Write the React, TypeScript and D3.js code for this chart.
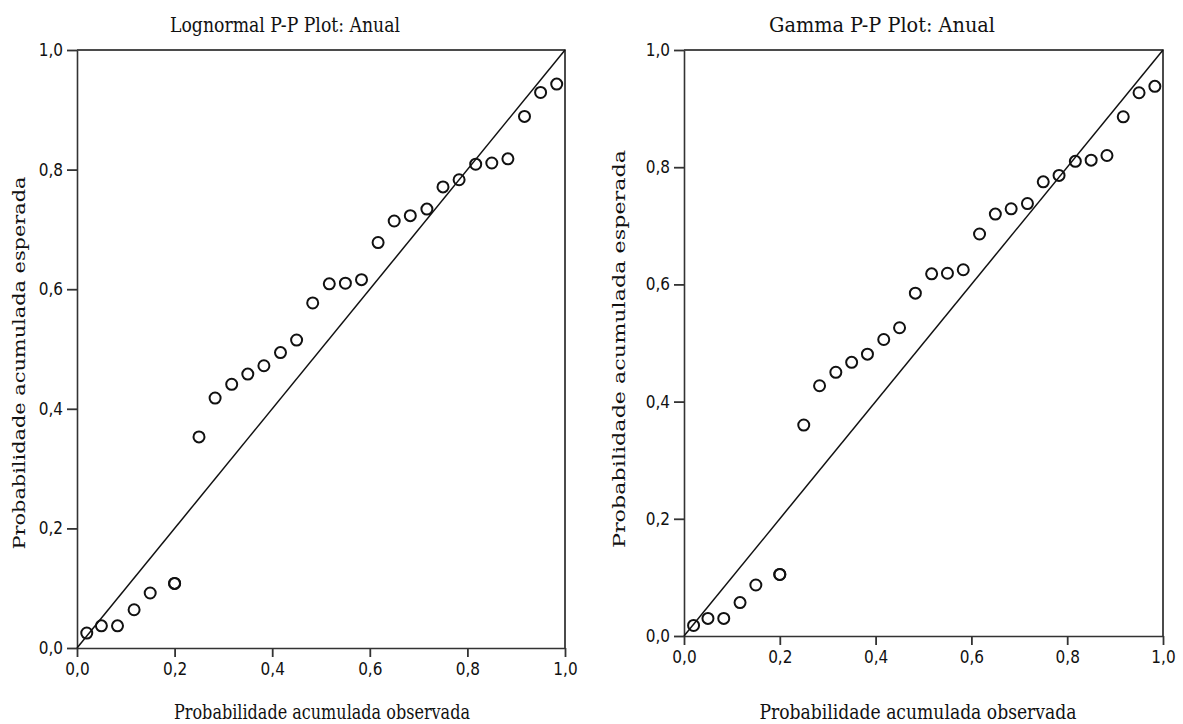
import React, { useEffect, useRef } from "react"
import * as d3 from "d3"

// observed cumulative probability (shared by both plots)
const observed = [0.02, 0.05, 0.083, 0.117, 0.15, 0.2, 0.2, 0.25, 0.283, 0.317, 0.35, 0.383, 0.417, 0.45, 0.483, 0.517, 0.55, 0.583, 0.617, 0.65, 0.683, 0.717, 0.75, 0.783, 0.817, 0.85, 0.883, 0.917, 0.95, 0.983]
// expected cumulative probability, lognormal fit
const lognormalExpected = [0.025, 0.037, 0.037, 0.064, 0.092, 0.108, 0.108, 0.353, 0.418, 0.441, 0.458, 0.472, 0.494, 0.515, 0.577, 0.609, 0.61, 0.616, 0.678, 0.714, 0.723, 0.734, 0.771, 0.783, 0.809, 0.811, 0.818, 0.889, 0.929, 0.943]
// expected cumulative probability, gamma fit
const gammaExpected = [0.018, 0.03, 0.03, 0.057, 0.087, 0.105, 0.105, 0.36, 0.427, 0.45, 0.467, 0.481, 0.506, 0.526, 0.585, 0.618, 0.619, 0.625, 0.686, 0.72, 0.729, 0.738, 0.775, 0.786, 0.81, 0.812, 0.82, 0.886, 0.927, 0.938]
const tickValues = [0, 0.2, 0.4, 0.6, 0.8, 1.0]
const titles = ["Lognormal P-P Plot: Anual", "Gamma P-P Plot: Anual"]
const xTitle = "Probabilidade acumulada observada"
const yTitle = "Probabilidade acumulada esperada"

const W = 1183
const H = 724

const locale = d3.formatLocale({ decimal: ",", thousands: ".", grouping: [3], currency: ["", ""] })
const fmt = locale.format(".1f")

const serif = "'DejaVu Serif Condensed', 'DejaVu Serif', serif"
const sans = "'Liberation Sans Narrow', 'DejaVu Sans Condensed', 'Liberation Sans', sans-serif"

function drawPanel(svg, expected, title, box) {
    const x = d3.scaleLinear().domain([0, 1]).range([box.left, box.right])
    const y = d3.scaleLinear().domain([0, 1]).range([box.bottom, box.top])
    const g = svg.append("g")

    // frame (top + right)
    g.append("path")
        .attr("d", `M${x(0)},${y(1)}H${x(1)}V${y(0)}`)
        .attr("fill", "none")
        .attr("stroke", "#111")
        .attr("stroke-width", 1.5)

    const xAxis = d3.axisBottom(x).tickValues(tickValues).tickFormat(fmt).tickSizeInner(9).tickSizeOuter(0).tickPadding(6)
    const yAxis = d3.axisLeft(y).tickValues(tickValues).tickFormat(fmt).tickSizeInner(10).tickSizeOuter(0).tickPadding(4)

    const gx = g.append("g").attr("transform", `translate(0,${y(0)})`).call(xAxis)
    const gy = g.append("g").attr("transform", `translate(${x(0)},0)`).call(yAxis)
    for (const a of [gx, gy]) {
        a.select(".domain").attr("stroke", "#333").attr("stroke-width", 1.6)
        a.selectAll(".tick line").attr("stroke", "#333").attr("stroke-width", 1.8)
        a.selectAll(".tick text").attr("fill", "#111").attr("font-family", sans).attr("font-size", 17)
    }

    // reference diagonal
    g.append("line")
        .attr("x1", x(0)).attr("y1", y(0))
        .attr("x2", x(1)).attr("y2", y(1))
        .attr("stroke", "#111")
        .attr("stroke-width", 1.5)

    g.append("g")
        .selectAll("circle")
        .data(observed.map((o, i) => [o, expected[i]]))
        .enter()
        .append("circle")
        .attr("cx", d => x(d[0]))
        .attr("cy", d => y(d[1]))
        .attr("r", 5.5)
        .attr("fill", "none")
        .attr("stroke", "#111")
        .attr("stroke-width", 2)

    g.append("text")
        .attr("x", box.titleX).attr("y", 32)
        .attr("text-anchor", "middle")
        .attr("font-family", serif).attr("font-size", 21)
        .attr("textLength", box.titleLen).attr("lengthAdjust", "spacingAndGlyphs")
        .attr("fill", "#111")
        .text(title)

    g.append("text")
        .attr("x", box.xTitleX).attr("y", 719)
        .attr("text-anchor", "middle")
        .attr("font-family", serif).attr("font-size", 21)
        .attr("textLength", box.xTitleLen).attr("lengthAdjust", "spacingAndGlyphs")
        .attr("fill", "#111")
        .text(xTitle)

    g.append("text")
        .attr("transform", `translate(${box.yTitleX},${box.yTitleY}) rotate(-90)`)
        .attr("text-anchor", "middle")
        .attr("font-family", serif).attr("font-size", 17)
        .attr("textLength", box.yTitleLen).attr("lengthAdjust", "spacingAndGlyphs")
        .attr("fill", "#111")
        .text(yTitle)
}

export default function App() {
    const ref = useRef(null)
    useEffect(() => {
        const svg = d3.select(ref.current)
        svg.selectAll("*").remove()
        drawPanel(svg, lognormalExpected, titles[0], {
            left: 77, right: 565, top: 50, bottom: 648,
            titleX: 285, titleLen: 230,
            xTitleX: 322, xTitleLen: 296,
            yTitleX: 25, yTitleY: 363, yTitleLen: 373,
        })
        drawPanel(svg, gammaExpected, titles[1], {
            left: 684, right: 1163, top: 50, bottom: 636,
            titleX: 882, titleLen: 226,
            xTitleX: 918, xTitleLen: 317,
            yTitleX: 625, yTitleY: 349, yTitleLen: 398,
        })
    }, [])
    return (
        <svg ref={ref} width={W} height={H}
            style={{ position: "absolute", left: 0, top: 0, background: "#fff" }} />
    )
}
